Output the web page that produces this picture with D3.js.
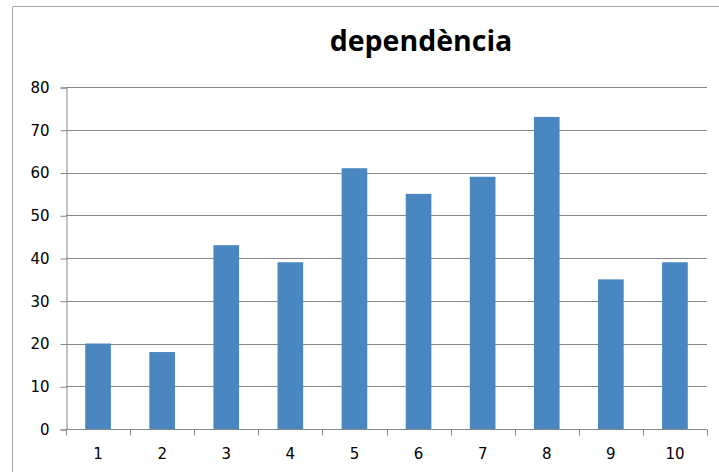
<!DOCTYPE html>
<html>
<head>
<meta charset="utf-8">
<script src="https://cdn.jsdelivr.net/npm/d3@7"></script>
<style>
  body { margin: 0; background: #fff; }
  svg { display: block; }
  .lbl { font-family: "DejaVu Sans", sans-serif; font-size: 15px; fill: #000; }
</style>
</head>
<body>
<div id="chart"></div>
<script>
// chart data
var categories = ["1", "2", "3", "4", "5", "6", "7", "8", "9", "10"];
var values = [20, 18, 43, 39, 61, 55, 59, 73, 35, 39];
var yTicks = [0, 10, 20, 30, 40, 50, 60, 70, 80];
var title = "dependència";

var width = 719,
    height = 472,
    margin = {top: 87, left: 66, bottom: 43, right: 12};

var svg = d3.select("#chart").append("svg")
    .attr("width", width)
    .attr("height", height);

// outer chart frame (runs off the right and bottom edges)
svg.append("path")
    .attr("d", "M12.5," + (height + 2) + "V6.5H" + (width + 2))
    .attr("fill", "none")
    .attr("stroke", "#a6a6a6")
    .attr("stroke-width", 1);

svg.append("text")
    .attr("x", 421)
    .attr("y", 51)
    .attr("text-anchor", "middle")
    .style("font-family", "'Open Sans', sans-serif")
    .style("font-weight", "bold")
    .style("font-size", "28.5px")
    .style("fill", "#000")
    .text(title);

var x = d3.scaleBand()
    .domain(categories)
    .range([margin.left, width - margin.right])
    .paddingInner(0.6)
    .paddingOuter(0.3);

var y = d3.scaleLinear()
    .domain([0, 80])
    .range([height - margin.bottom, margin.top]);

// gridlines
svg.append("g")
    .selectAll("line")
    .data(yTicks.slice(1))
    .enter().append("line")
    .attr("x1", margin.left)
    .attr("x2", width - margin.right)
    .attr("y1", function(d) { return Math.round(y(d)) + 0.5; })
    .attr("y2", function(d) { return Math.round(y(d)) + 0.5; })
    .attr("stroke", "#868686");

// bars
svg.append("g")
    .selectAll("rect")
    .data(values)
    .enter().append("rect")
    .attr("x", function(d, i) { return x(categories[i]); })
    .attr("width", x.bandwidth())
    .attr("y", function(d) { return y(d); })
    .attr("height", function(d) { return y(0) - y(d); })
    .attr("fill", "#4a86c0");

// y axis
var yAxis = svg.append("g")
    .attr("transform", "translate(" + (margin.left + 0.5) + ",0.5)")
    .call(d3.axisLeft(y).tickValues(yTicks).tickSize(6).tickPadding(11));
yAxis.selectAll("text").attr("class", "lbl");

// x axis with ticks at the band edges
var xEdge = d3.scaleLinear().domain([0, categories.length]).range(x.range());
var xAxis = svg.append("g")
    .attr("transform", "translate(0," + (Math.round(y(0)) + 0.5) + ")");
xAxis.append("line")
    .attr("x1", margin.left).attr("x2", width - margin.right)
    .attr("stroke", "#868686");
xAxis.selectAll(".edge")
    .data(d3.range(categories.length + 1))
    .enter().append("line")
    .attr("class", "edge")
    .attr("x1", function(d) { return Math.round(xEdge(d)) + 0.5; })
    .attr("x2", function(d) { return Math.round(xEdge(d)) + 0.5; })
    .attr("y1", 0).attr("y2", 6)
    .attr("stroke", "#868686");
xAxis.selectAll("text")
    .data(categories)
    .enter().append("text")
    .attr("class", "lbl")
    .attr("x", function(d) { return x(d) + x.bandwidth() / 2; })
    .attr("y", 29)
    .attr("text-anchor", "middle")
    .text(function(d) { return d; });

svg.selectAll(".domain, .tick line").attr("stroke", "#868686");
</script>
</body>
</html>
